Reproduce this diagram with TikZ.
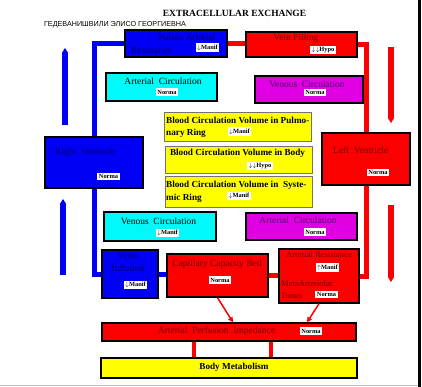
\documentclass[tikz,border=0pt]{standalone}
\usepackage{fontspec}
\setmainfont{Liberation Serif}
\newfontfamily\cyrfont{Liberation Sans}
\usetikzlibrary{arrows.meta,calc}

\definecolor{boxblue}{RGB}{0,0,245}
\definecolor{boxred}{RGB}{250,0,0}
\definecolor{boxcyan}{RGB}{0,250,250}
\definecolor{boxmag}{RGB}{225,0,225}
\definecolor{boxyel}{RGB}{255,255,0}
\definecolor{txtblue}{RGB}{0,0,105}
\definecolor{txtred}{RGB}{115,0,0}
\definecolor{txtmag}{RGB}{75,0,105}

\tikzset{
  box/.style={draw=black, line width=1.4pt, inner sep=0pt},
  volbox/.style={draw=black!55, line width=1pt, fill=boxyel, inner sep=0pt, minimum width=147pt},
  txt/.style={inner sep=0pt, font=\fontsize{9.5}{10}\selectfont},
  smalltxt/.style={inner sep=0pt, font=\fontsize{8.6}{9}\selectfont},
  boldtxt/.style={txt, font=\fontsize{9.2}{10}\selectfont\bfseries},
  badge/.style={fill=white, inner sep=1.5pt, font=\fontsize{6.4}{7}\selectfont\bfseries},
  bluecon/.style={draw=boxblue, line width=5pt},
  redcon/.style={draw=boxred, line width=5pt},
  bigarrow/.style={line width=6pt, -{Triangle[width=0pt 1, length=5pt]}},
  thinarrow/.style={draw=boxred, line width=1.5pt, -{Triangle[width=5pt, length=5pt]}}
}

\begin{document}
\begin{tikzpicture}[x=1pt, y=-1pt]
\useasboundingbox (0,0) rectangle (422,387);
\fill[white] (0,0) rectangle (422,387);
\fill[black] (418,0) rectangle (420.5,387);
\draw[black!25, line width=0.8pt] (0,385) -- (418,385);

% headings
\node[inner sep=0pt, font=\fontsize{9.5}{10}\selectfont\bfseries] (title) at (234.5,13) {EXTRACELLULAR EXCHANGE};
\node[inner sep=0pt, font=\cyrfont\fontsize{7.2}{7}\selectfont] (author) at (115,25) {ГЕДЕВАНИШВИЛИ ЭЛИСО ГЕОРГИЕВНА};

% boxes
\node[box, fill=boxblue, minimum width=102pt, minimum height=27pt] (pulmo) at (176,43.5) {};
\node[box, fill=boxred, minimum width=111pt, minimum height=25pt] (vein) at (301.5,44.5) {};
\node[box, fill=boxcyan, minimum width=111pt, minimum height=28pt] (artC) at (161.5,87) {};
\node[box, fill=boxmag, minimum width=108pt, minimum height=27pt] (venC) at (309,89.5) {};
\node[box, fill=boxblue, minimum width=98pt, minimum height=51pt] (rv) at (94,162.5) {};
\node[box, fill=boxred, minimum width=88pt, minimum height=52pt] (lv) at (366,159) {};
\node[volbox, minimum height=29pt] (vol1) at (238,127.5) {};
\node[volbox, minimum height=27pt] (vol2) at (238.5,160.5) {};
\node[volbox, minimum height=30pt] (vol3) at (238.5,192) {};
\node[box, fill=boxcyan, minimum width=112pt, minimum height=29pt] (venC2) at (160,226.5) {};
\node[box, fill=boxmag, minimum width=111pt, minimum height=27pt] (artC2) at (301.5,226.5) {};
\node[box, fill=boxblue, minimum width=56pt, minimum height=48pt] (veinInf) at (130,274) {};
\node[box, fill=boxred, minimum width=101pt, minimum height=43pt] (capBed) at (217.5,275.5) {};
\node[box, fill=boxred, minimum width=80pt, minimum height=54pt] (artRes) at (319,276) {};
\node[box, fill=boxred, minimum width=254pt, minimum height=18pt] (perf) at (229,332) {};
\node[box, fill=boxyel, minimum width=256pt, minimum height=20pt] (meta) at (229,368) {};

% box texts
\node[txt, text=txtblue] (pulmoT1) at (187,37) {Pulmo Arterial};
\node[txt, text=txtblue, anchor=west] (pulmoT2) at (131,50) {Resistance};
\node[badge] (pulmoB) at (207.5,47.5) {$\downarrow$Manif};
\node[txt, text=txtred] (veinT) at (296,38) {Vein Filling};
\node[badge] (veinB) at (323,50) {$\downarrow\downarrow$Hypo};
\node[txt] (artCT) at (163,81) {Arterial\ \ Circulation};
\node[badge] (artCB) at (167,92) {Norma};
\node[txt, text=txtmag] (venCT) at (307,84) {Venous\ \ Circulation};
\node[badge] (venCB) at (315,92.5) {Norma};
\node[txt, text=txtblue, anchor=west] (rvT) at (55,152) {Right\ \ Ventricle};
\node[badge] (rvB) at (108.5,176.5) {Norma};
\node[txt, text=txtred, anchor=west] (lvT) at (333,150) {Left\ \ Ventricle};
\node[badge] (lvB) at (378,172.5) {Norma};
\node[boldtxt, anchor=west] (vol1T1) at (166,120) {Blood Circulation Volume in Pulmo-};
\node[boldtxt, anchor=west] (vol1T2) at (166,133) {nary Ring};
\node[badge] (vol1B) at (239.5,131.5) {$\downarrow$Manif};
\node[boldtxt] (vol2T) at (237.5,153) {Blood Circulation Volume in Body};
\node[badge] (vol2B) at (260,166) {$\downarrow\downarrow$Hypo};
\node[boldtxt, anchor=west] (vol3T1) at (166,185) {Blood Circulation Volume in\ \ Syste-};
\node[boldtxt, anchor=west] (vol3T2) at (166,198) {mic Ring};
\node[badge] (vol3B) at (239,196) {$\downarrow$Manif};
\node[txt] (venC2T) at (158.5,221) {Venous\ \ Circulation};
\node[badge] (venC2B) at (167.5,233) {$\downarrow$Manif};
\node[txt, text=txtmag] (artC2T) at (298,220) {Arterial\ \ Circulation};
\node[badge] (artC2B) at (315,232) {Norma};
\node[txt, text=txtblue] (veinInfT1) at (128,255) {Veins};
\node[txt, text=txtblue] (veinInfT2) at (128,268) {Inflation};
\node[badge] (veinInfB) at (135.5,285) {$\downarrow$Manif};
\node[txt, text=txtred] (capBedT) at (217,264) {Capillary Capacity Bed};
\node[badge] (capBedB) at (220,280) {Norma};
\node[smalltxt, text=txtred] (artResT1) at (319,255) {Arterial Resistance};
\node[badge] (artResB1) at (327.5,267.5) {$\uparrow$Manif};
\node[smalltxt, text=txtred, anchor=west] (artResT2) at (281,284) {MetaArteriolar};
\node[smalltxt, text=txtred, anchor=west] (artResT3) at (281,295.5) {Tonus};
\node[badge] (artResB2) at (326.5,294.5) {Norma};
\node[txt, text=txtred] (perfT) at (216.5,331) {Arterial\ \ Perfusion\ \ Impedance};
\node[badge] (perfB) at (311,331) {Norma};
\node[boldtxt] (metaT) at (234,367) {Body Metabolism};

% connectors
\draw[bluecon] (rv.north) |- (pulmo.west);
\draw[redcon] (pulmo.east) -- (pulmo.east -| vein.west);
\draw[redcon] (vein.east) -| (lv.north);
\draw[bluecon] (rv.south) |- (veinInf.west);
\draw[bluecon] (veinInf.east) -- (veinInf.east -| capBed.west);
\draw[redcon] (capBed.east) -- (capBed.east -| artRes.west);
\draw[redcon] (lv.south) |- (artRes.east);
\draw[thinarrow] (capBed.south) -- ($(perf.north)+(4,0)$);
\draw[thinarrow] (artRes.south) -- ($(perf.north)+(78,0)$);
\draw[redcon, line width=4.5pt] ($(perf.south)+(-35,0)$) -- ($(meta.north)+(-35,0)$);
\draw[redcon, line width=4.5pt] ($(perf.south)+(42,0)$) -- ($(meta.north)+(42,0)$);

% side arrows
\coordinate (lA1s) at (65,125);
\coordinate (lA1e) at (65,48);
\coordinate (lA2s) at (63,275);
\coordinate (lA2e) at (63,199);
\coordinate (rA1s) at (391,47);
\coordinate (rA1e) at (391,123);
\coordinate (rA2s) at (391,205);
\coordinate (rA2e) at (391,282);
\draw[bigarrow, boxblue] (lA1s) -- (lA1e);
\draw[bigarrow, boxblue] (lA2s) -- (lA2e);
\draw[bigarrow, boxred] (rA1s) -- (rA1e);
\draw[bigarrow, boxred] (rA2s) -- (rA2e);
\end{tikzpicture}
\end{document}
